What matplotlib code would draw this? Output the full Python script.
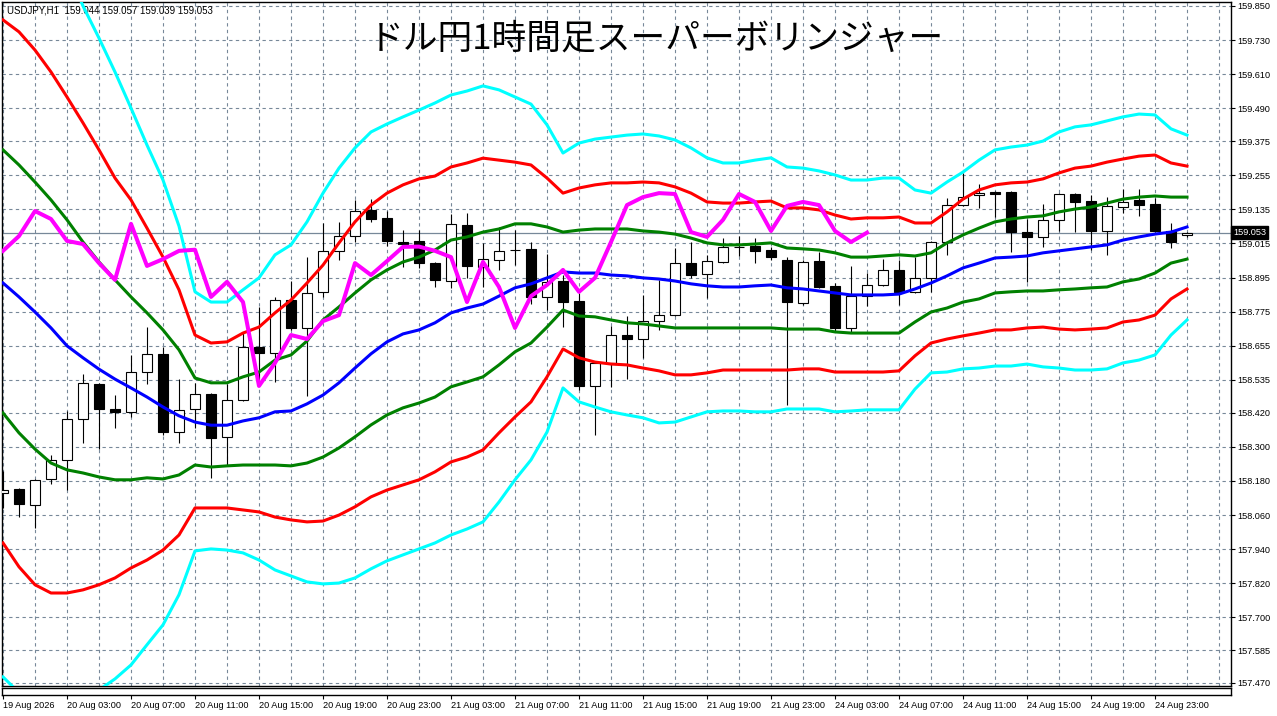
import numpy as np
import matplotlib
matplotlib.use("Agg")
import matplotlib.pyplot as plt
import matplotlib.transforms as mtransforms

plt.rcParams['font.family'] = ['Liberation Sans', 'DejaVu Sans']

# hourly candles, 19 Aug 23:00 .. 25 Aug 01:00
open_ = [158.138, 158.152, 158.095, 158.187, 158.254, 158.398, 158.521, 158.433, 158.423, 158.563,
         158.627, 158.352, 158.433, 158.486, 158.335, 158.465, 158.651, 158.630, 158.816, 158.718,
         158.845, 158.989, 159.041, 159.133, 159.105, 159.020, 159.024, 158.946, 158.883, 159.080,
         158.932, 158.957, 158.992, 158.996, 158.827, 158.883, 158.813, 158.514, 158.595, 158.693,
         158.679, 158.742, 158.763, 158.946, 158.908, 158.950, 159.003, 159.006, 158.992, 158.957,
         158.806, 158.953, 158.866, 158.718, 158.830, 158.869, 158.922, 158.845, 158.894, 159.020,
         159.150, 159.185, 159.196, 159.196, 159.055, 159.038, 159.098, 159.189, 159.164, 159.059,
         159.143, 159.168, 159.154, 159.059, 159.044]
high = [158.215, 158.155, 158.186, 158.271, 158.426, 158.556, 158.525, 158.482, 158.623, 158.721,
        158.651, 158.539, 158.525, 158.490, 158.521, 158.700, 158.792, 158.827, 158.883, 158.967,
        159.087, 159.091, 159.168, 159.171, 159.129, 159.062, 159.062, 158.950, 159.119, 159.122,
        159.017, 159.073, 159.062, 159.020, 158.978, 158.904, 158.841, 158.598, 158.725, 158.760,
        158.834, 158.887, 158.999, 159.020, 158.975, 159.034, 159.041, 159.034, 159.003, 158.967,
        158.957, 158.985, 158.876, 158.936, 158.911, 158.960, 158.957, 158.967, 159.024, 159.175,
        159.263, 159.224, 159.199, 159.199, 159.101, 159.154, 159.192, 159.192, 159.185, 159.178,
        159.207, 159.207, 159.175, 159.087, 159.057]
low = [158.085, 158.053, 158.015, 158.170, 158.148, 158.313, 158.292, 158.366, 158.405, 158.521,
       158.342, 158.313, 158.366, 158.191, 158.236, 158.462, 158.514, 158.528, 158.712, 158.479,
       158.827, 158.957, 159.020, 159.091, 159.006, 158.932, 158.929, 158.862, 158.859, 158.894,
       158.862, 158.922, 158.939, 158.802, 158.781, 158.721, 158.500, 158.342, 158.511, 158.539,
       158.612, 158.711, 158.760, 158.894, 158.823, 158.947, 158.971, 158.946, 158.957, 158.447,
       158.799, 158.860, 158.704, 158.704, 158.795, 158.866, 158.799, 158.842, 158.845, 158.975,
       159.147, 159.140, 159.108, 158.985, 158.880, 159.003, 159.059, 159.055, 158.992, 158.975,
       159.122, 159.112, 159.056, 158.999, 159.039]
close = [158.148, 158.099, 158.184, 158.254, 158.398, 158.525, 158.433, 158.423, 158.563, 158.627,
         158.352, 158.430, 158.486, 158.331, 158.465, 158.651, 158.630, 158.816, 158.718, 158.841,
         158.989, 159.041, 159.129, 159.101, 159.024, 159.013, 158.946, 158.887, 159.084, 158.936,
         158.960, 158.989, 158.993, 158.827, 158.880, 158.809, 158.514, 158.595, 158.693, 158.679,
         158.742, 158.763, 158.946, 158.904, 158.953, 159.003, 159.004, 158.989, 158.967, 158.809,
         158.950, 158.862, 158.718, 158.830, 158.869, 158.922, 158.845, 158.894, 159.020, 159.150,
         159.178, 159.192, 159.189, 159.055, 159.038, 159.098, 159.189, 159.161, 159.059, 159.147,
         159.161, 159.150, 159.059, 159.020, 159.053]

# super bollinger lines
mid = [158.876, 158.827, 158.774, 158.718, 158.655, 158.613, 158.573, 158.538, 158.507, 158.475,
       158.440, 158.409, 158.387, 158.376, 158.376, 158.391, 158.402, 158.423, 158.426, 158.451,
       158.482, 158.525, 158.577, 158.627, 158.669, 158.697, 158.711, 158.736, 158.771, 158.788,
       158.802, 158.830, 158.859, 158.873, 158.894, 158.915, 158.911, 158.911, 158.904, 158.901,
       158.894, 158.890, 158.883, 158.873, 158.866, 158.862, 158.862, 158.866, 158.869, 158.859,
       158.855, 158.848, 158.841, 158.834, 158.834, 158.834, 158.837, 158.855, 158.876, 158.901,
       158.929, 158.946, 158.964, 158.967, 158.971, 158.982, 158.989, 158.996, 159.003, 159.010,
       159.027, 159.038, 159.048, 159.055, 159.073]
plus1 = [159.344, 159.291, 159.231, 159.168, 159.098, 159.020, 158.950, 158.887, 158.827, 158.771,
         158.711, 158.641, 158.542, 158.525, 158.525, 158.546, 158.563, 158.605, 158.623, 158.672,
         158.746, 158.792, 158.841, 158.887, 158.922, 158.950, 158.967, 158.992, 159.027, 159.038,
         159.055, 159.066, 159.084, 159.084, 159.073, 159.055, 159.062, 159.066, 159.066, 159.066,
         159.059, 159.055, 159.048, 159.034, 159.017, 159.010, 159.010, 159.013, 159.017, 158.999,
         158.996, 158.992, 158.982, 158.967, 158.967, 158.971, 158.975, 158.971, 158.982, 159.017,
         159.045, 159.069, 159.091, 159.101, 159.108, 159.112, 159.126, 159.136, 159.143, 159.157,
         159.171, 159.178, 159.182, 159.178, 159.178]
minus1 = [158.419, 158.349, 158.292, 158.243, 158.219, 158.208, 158.194, 158.184, 158.184, 158.191,
          158.187, 158.201, 158.236, 158.229, 158.233, 158.236, 158.236, 158.236, 158.233, 158.243,
          158.264, 158.296, 158.335, 158.377, 158.412, 158.437, 158.454, 158.475, 158.511, 158.528,
          158.546, 158.588, 158.634, 158.665, 158.721, 158.781, 158.760, 158.757, 158.746, 158.736,
          158.732, 158.725, 158.718, 158.718, 158.718, 158.718, 158.718, 158.718, 158.718, 158.714,
          158.714, 158.714, 158.704, 158.700, 158.700, 158.700, 158.700, 158.739, 158.774, 158.788,
          158.809, 158.820, 158.841, 158.845, 158.848, 158.848, 158.852, 158.855, 158.859, 158.862,
          158.880, 158.890, 158.911, 158.946, 158.960]
plus2 = [159.801, 159.759, 159.695, 159.618, 159.530, 159.439, 159.344, 159.245, 159.168, 159.069,
         158.967, 158.852, 158.693, 158.665, 158.669, 158.700, 158.721, 158.771, 158.816, 158.876,
         158.939, 159.017, 159.091, 159.150, 159.192, 159.221, 159.242, 159.252, 159.284, 159.298,
         159.315, 159.308, 159.301, 159.291, 159.245, 159.192, 159.210, 159.221, 159.228, 159.228,
         159.231, 159.228, 159.214, 159.192, 159.161, 159.157, 159.157, 159.161, 159.164, 159.140,
         159.140, 159.133, 159.115, 159.101, 159.105, 159.105, 159.108, 159.087, 159.087, 159.126,
         159.171, 159.203, 159.221, 159.228, 159.231, 159.242, 159.263, 159.280, 159.287, 159.301,
         159.312, 159.322, 159.326, 159.298, 159.287]
minus2 = [157.962, 157.878, 157.815, 157.786, 157.786, 157.797, 157.815, 157.839, 157.874, 157.902,
          157.937, 157.990, 158.085, 158.085, 158.085, 158.078, 158.071, 158.053, 158.043, 158.036,
          158.039, 158.060, 158.089, 158.124, 158.148, 158.166, 158.184, 158.212, 158.247, 158.264,
          158.289, 158.349, 158.405, 158.458, 158.546, 158.644, 158.613, 158.598, 158.591, 158.588,
          158.577, 158.567, 158.553, 158.553, 158.560, 158.570, 158.570, 158.570, 158.570, 158.570,
          158.574, 158.574, 158.563, 158.563, 158.563, 158.563, 158.567, 158.620, 158.665, 158.679,
          158.690, 158.700, 158.711, 158.711, 158.718, 158.721, 158.714, 158.711, 158.714, 158.718,
          158.739, 158.746, 158.763, 158.820, 158.855]
plus3 = [160.261, 160.219, 160.145, 160.068, 159.983, 159.850, 159.737, 159.618, 159.491, 159.361,
         159.238, 159.076, 158.845, 158.809, 158.809, 158.852, 158.894, 158.975, 159.010, 159.091,
         159.192, 159.280, 159.351, 159.407, 159.435, 159.460, 159.484, 159.509, 159.537, 159.551,
         159.569, 159.555, 159.530, 159.505, 159.432, 159.333, 159.368, 159.382, 159.389, 159.396,
         159.400, 159.393, 159.379, 159.351, 159.316, 159.298, 159.298, 159.308, 159.316, 159.284,
         159.280, 159.270, 159.256, 159.238, 159.238, 159.245, 159.245, 159.203, 159.192, 159.231,
         159.266, 159.308, 159.344, 159.354, 159.361, 159.375, 159.407, 159.425, 159.432, 159.446,
         159.460, 159.470, 159.467, 159.418, 159.396]
minus3 = [157.491, 157.435, 157.403, 157.368, 157.326, 157.389, 157.445, 157.484, 157.533, 157.604,
          157.674, 157.780, 157.934, 157.941, 157.937, 157.927, 157.902, 157.867, 157.846, 157.825,
          157.818, 157.821, 157.839, 157.871, 157.899, 157.920, 157.941, 157.962, 157.990, 158.011,
          158.036, 158.106, 158.184, 158.254, 158.352, 158.507, 158.458, 158.440, 158.423, 158.412,
          158.402, 158.384, 158.387, 158.405, 158.423, 158.426, 158.426, 158.423, 158.423, 158.433,
          158.433, 158.433, 158.423, 158.426, 158.430, 158.430, 158.430, 158.503, 158.560, 158.563,
          158.574, 158.577, 158.584, 158.584, 158.591, 158.581, 158.577, 158.570, 158.570, 158.574,
          158.595, 158.605, 158.623, 158.693, 158.746]
lag = 20  # lagging span = close drawn 20 bars back

price_ticks = [159.850, 159.730, 159.610, 159.490, 159.375, 159.255, 159.135, 159.015, 158.895,
               158.775, 158.655, 158.535, 158.420, 158.300, 158.180, 158.060, 157.940, 157.820,
               157.700, 157.585, 157.470]
time_labels = ["19 Aug 2026", "20 Aug 03:00", "20 Aug 07:00", "20 Aug 11:00", "20 Aug 15:00",
               "20 Aug 19:00", "20 Aug 23:00", "21 Aug 03:00", "21 Aug 07:00", "21 Aug 11:00",
               "21 Aug 15:00", "21 Aug 19:00", "21 Aug 23:00", "24 Aug 03:00", "24 Aug 07:00",
               "24 Aug 11:00", "24 Aug 15:00", "24 Aug 19:00", "24 Aug 23:00"]
last_price = 159.053

W, H = 1277, 716
fig = plt.figure(figsize=(W / 100, H / 100), dpi=100)
fig.patch.set_facecolor('white')

# main price window (pixel box 2..1231 x 2..686)
ax = fig.add_axes([2 / W, 1 - 686 / H, 1229 / W, 684 / H])
x = np.arange(len(close))
o = np.array(open_)
c = np.array(close)
xmin, xmax = -1 / 16, 1228 / 16
ax.set_xlim(xmin, xmax)
ax.set_ylim(157.459, 159.864)

grid_col = '#778899'
ax.set_xticks(np.arange(0, 77, 2))
ax.set_yticks(price_ticks)
ax.grid(True, color=grid_col, linestyle=(0, (3, 3)), linewidth=0.8, zorder=0)
ax.set_axisbelow(True)
ax.tick_params(axis='x', length=0, labelbottom=False)
ax.yaxis.tick_right()
ax.set_yticklabels([f"{v:.3f}" for v in price_ticks])
ax.tick_params(axis='y', direction='out', length=3, width=0.8, pad=1.5, labelsize=6.6)
for s in ax.spines.values():
    s.set_linewidth(1.0)
    s.set_color('black')

# current price line
ax.axhline(last_price, color=grid_col, linewidth=0.9, zorder=1)

# candles
ax.vlines(x, low, high, color='black', linewidth=0.8, zorder=2)
body_col = ['white' if cc >= oo else 'black' for oo, cc in zip(o, c)]
ax.bar(x, np.abs(c - o), bottom=np.minimum(o, c), width=0.62, color=body_col,
       edgecolor='black', linewidth=0.8, zorder=3)

# bands
ax.plot(x, plus3, color='#00FFFF', linewidth=2.2, zorder=4)
ax.plot(x, minus3, color='#00FFFF', linewidth=2.2, zorder=4)
ax.plot(x, plus2, color='#FF0000', linewidth=2.2, zorder=4)
ax.plot(x, minus2, color='#FF0000', linewidth=2.2, zorder=4)
ax.plot(x, plus1, color='#008000', linewidth=2.2, zorder=4)
ax.plot(x, minus1, color='#008000', linewidth=2.2, zorder=4)
ax.plot(x, mid, color='#0000FF', linewidth=2.2, zorder=4)
ax.plot(x[:len(close) - lag], close[lag:], color='#FF00FF', linewidth=2.9, zorder=5)

# header and title
ax.text(5 / 1229, 1 - 9 / 684, "USDJPY,H1  159.044 159.057 159.039 159.053", transform=ax.transAxes,
        fontsize=7, ha='left', va='center', zorder=1)
fig.text(656 / W, 1 - 39 / H, "ドル円1時間足スーパーボリンジャー", family=['Noto Sans CJK JP', 'DejaVu Sans'],
         fontsize=25, ha='center', va='center', color='black')

# last price box on the axis
trans = mtransforms.blended_transform_factory(ax.transAxes, ax.transData)
ax.text(1 + 2.3 / 1229, last_price, f"{last_price:.3f}", transform=trans,
        fontsize=6.6, color='white', ha='left', va='center', clip_on=False,
        bbox=dict(boxstyle='square,pad=0.2', fc='black', ec='black'))

# empty strip and time axis
ax2 = fig.add_axes([2 / W, 1 - 695 / H, 1229 / W, 7 / H])
ax2.set_xlim(xmin, xmax)
ax2.set_yticks([])
ax2.set_xticks(np.arange(0, 73, 4))
ax2.set_xticklabels(time_labels, ha='left')
ax2.tick_params(axis='x', direction='out', length=3, width=0.8, pad=1, labelsize=6.6)
for s in ax2.spines.values():
    s.set_linewidth(1.0)

fig.savefig('out.png', dpi=100)
